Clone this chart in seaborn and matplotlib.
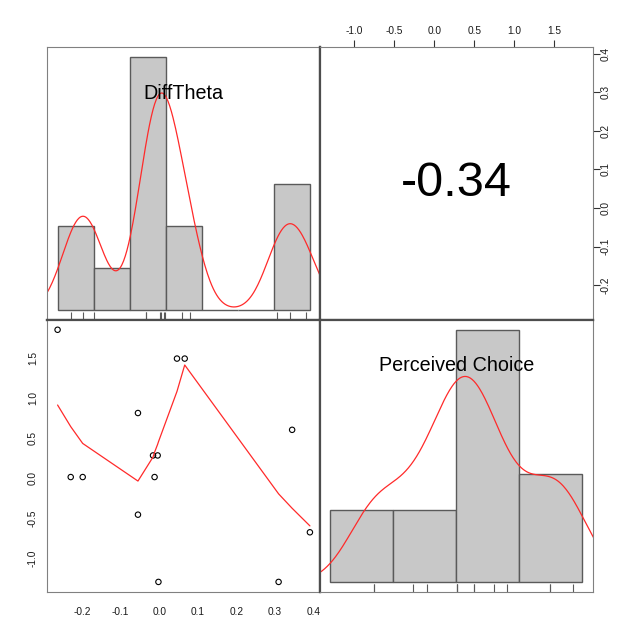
import numpy as np
import pandas as pd
import matplotlib
matplotlib.use("Agg")
import matplotlib.pyplot as plt
import seaborn as sns

# values (psych::pairs.panels style)
diff_theta = [-0.263, -0.229, -0.198, -0.055, -0.055, -0.016, -0.012,
              -0.004, -0.002, 0.046, 0.066, 0.309, 0.344, 0.390]
perceived_choice = [1.85, 0.01, 0.01, 0.81, -0.46, 0.28, 0.01,
                    0.28, -1.30, 1.49, 1.49, -1.30, 0.60, -0.68]

# lowess line as drawn in the scatter panel
smooth_x = [-0.263, -0.229, -0.198, -0.055, -0.016, -0.012, -0.004,
            -0.002, 0.046, 0.066, 0.309, 0.344, 0.390]
smooth_y = [0.91, 0.64, 0.43, -0.04, 0.26, 0.32, 0.42,
            0.45, 1.08, 1.41, -0.20, -0.38, -0.60]

dt_breaks = [-0.3, -0.2, -0.1, 0.0, 0.1, 0.2, 0.3, 0.4]
pc_breaks = [-2, -1, 0, 1, 2]

dt_ticks = [-0.2, -0.1, 0.0, 0.1, 0.2, 0.3, 0.4]
pc_ticks = [-1.0, -0.5, 0.0, 0.5, 1.0, 1.5]

names = ["DiffTheta", "Perceived Choice"]

df = pd.DataFrame({"DiffTheta": diff_theta, "Perceived Choice": perceived_choice})

sns.set_style("white")
plt.rcParams["font.family"] = ["Liberation Sans", "DejaVu Sans"]
plt.rcParams["axes.unicode_minus"] = False
plt.rcParams["text.color"] = "black"

frame_col = "#808080"
inner_col = "#4d4d4d"
bar_col = "#c8c8c8"
bar_edge = "#5a5a5a"


def padded(lo, hi):
    r = hi - lo
    return lo - 0.04 * r, hi + 0.04 * r


def nrd0_factor(x):
    # R's default density bandwidth expressed as a scipy factor
    x = np.asarray(x)
    sd = x.std(ddof=1)
    q75, q25 = np.percentile(x, [75, 25])
    bw = 0.9 * min(sd, (q75 - q25) / 1.34) * len(x) ** -0.2
    return bw / sd


def hist_panel(ax, col, breaks, label):
    x = df[col]
    sns.histplot(x=x, bins=breaks, stat="density", color=bar_col,
                 edgecolor=bar_edge, linewidth=1.0, alpha=1, ax=ax)
    sns.kdeplot(x=x, bw_method=nrd0_factor(x), color="#ff2a2a",
                linewidth=0.9, gridsize=400, ax=ax)
    sns.rugplot(x=x, height=0.03, color="#5a5a5a", linewidth=0.8, ax=ax)
    maxd = max(p.get_height() for p in ax.patches)
    ax.set_xlim(*padded(breaks[0], breaks[-1]))
    ax.set_ylim(-0.04 * maxd, 1.04 * maxd)
    ax.set_xticks([])
    ax.set_yticks([])
    ax.set_xlabel("")
    ax.set_ylabel("")
    ax.text(0.5, 0.83, label, transform=ax.transAxes, ha="center",
            va="center", fontsize=14.2, color="black")


fig, axes = plt.subplots(2, 2, figsize=(6.4, 6.4), dpi=100)
fig.subplots_adjust(left=0.0742, right=0.9258, bottom=0.075, top=0.926,
                    wspace=0, hspace=0)

dt_lim = padded(min(diff_theta), max(diff_theta))
pc_lim = padded(min(perceived_choice), max(perceived_choice))

hist_panel(axes[0, 0], "DiffTheta", dt_breaks, names[0])
hist_panel(axes[1, 1], "Perceived Choice", pc_breaks, names[1])

# scatter + smoother
ax = axes[1, 0]
sns.scatterplot(data=df, x="DiffTheta", y="Perceived Choice", marker="o",
                facecolor="none", edgecolor="black", s=15, linewidth=0.8, ax=ax)
sns.lineplot(x=smooth_x, y=smooth_y, sort=False, estimator=None,
             color="#ff2a2a", linewidth=0.9, ax=ax)
ax.set_xlim(*dt_lim)
ax.set_ylim(*pc_lim)
ax.set_xticks(dt_ticks)
ax.set_xticklabels([f"{t:.1f}" for t in dt_ticks])
ax.set_yticks(pc_ticks)
ax.set_yticklabels([f"{t:.1f}" for t in pc_ticks], rotation=90, va="center")
ax.set_xlabel("")
ax.set_ylabel("")

# correlation panel
ax = axes[0, 1]
r = np.corrcoef(diff_theta, perceived_choice)[0, 1]
ax.set_xlim(*pc_lim)
ax.set_ylim(*dt_lim)
ax.xaxis.tick_top()
ax.yaxis.tick_right()
ax.set_xticks(pc_ticks)
ax.set_xticklabels([f"{t:.1f}" for t in pc_ticks])
ax.set_yticks(dt_ticks)
ax.set_yticklabels([f"{t:.1f}" for t in dt_ticks], rotation=90, va="center")
ax.text(0.5, 0.5, f"{r:.2f}", transform=ax.transAxes, ha="center",
        va="center", fontsize=35, color="black")

for a in axes.flat:
    a.tick_params(direction="out", length=5, width=0.8, color="#333333",
                  labelsize=7.3, labelcolor="#1a1a1a")
    for s in a.spines.values():
        s.set_color(frame_col)
        s.set_linewidth(0.8)

axes[1, 0].tick_params(axis="x", pad=6)
axes[1, 0].tick_params(axis="y", pad=2)
axes[0, 1].tick_params(axis="x", pad=3)
axes[0, 1].tick_params(axis="y", pad=1)

# inner dividers are darker where the panel boxes meet
axes[0, 0].spines["right"].set(color=inner_col, linewidth=1.6)
axes[0, 0].spines["bottom"].set(color=inner_col, linewidth=1.6)
axes[0, 1].spines["left"].set(color=inner_col, linewidth=1.6)
axes[0, 1].spines["bottom"].set(color=inner_col, linewidth=1.6)
axes[1, 0].spines["top"].set(color=inner_col, linewidth=1.6)
axes[1, 0].spines["right"].set(color=inner_col, linewidth=1.6)
axes[1, 1].spines["top"].set(color=inner_col, linewidth=1.6)
axes[1, 1].spines["left"].set(color=inner_col, linewidth=1.6)

fig.savefig("out.png", dpi=100)
